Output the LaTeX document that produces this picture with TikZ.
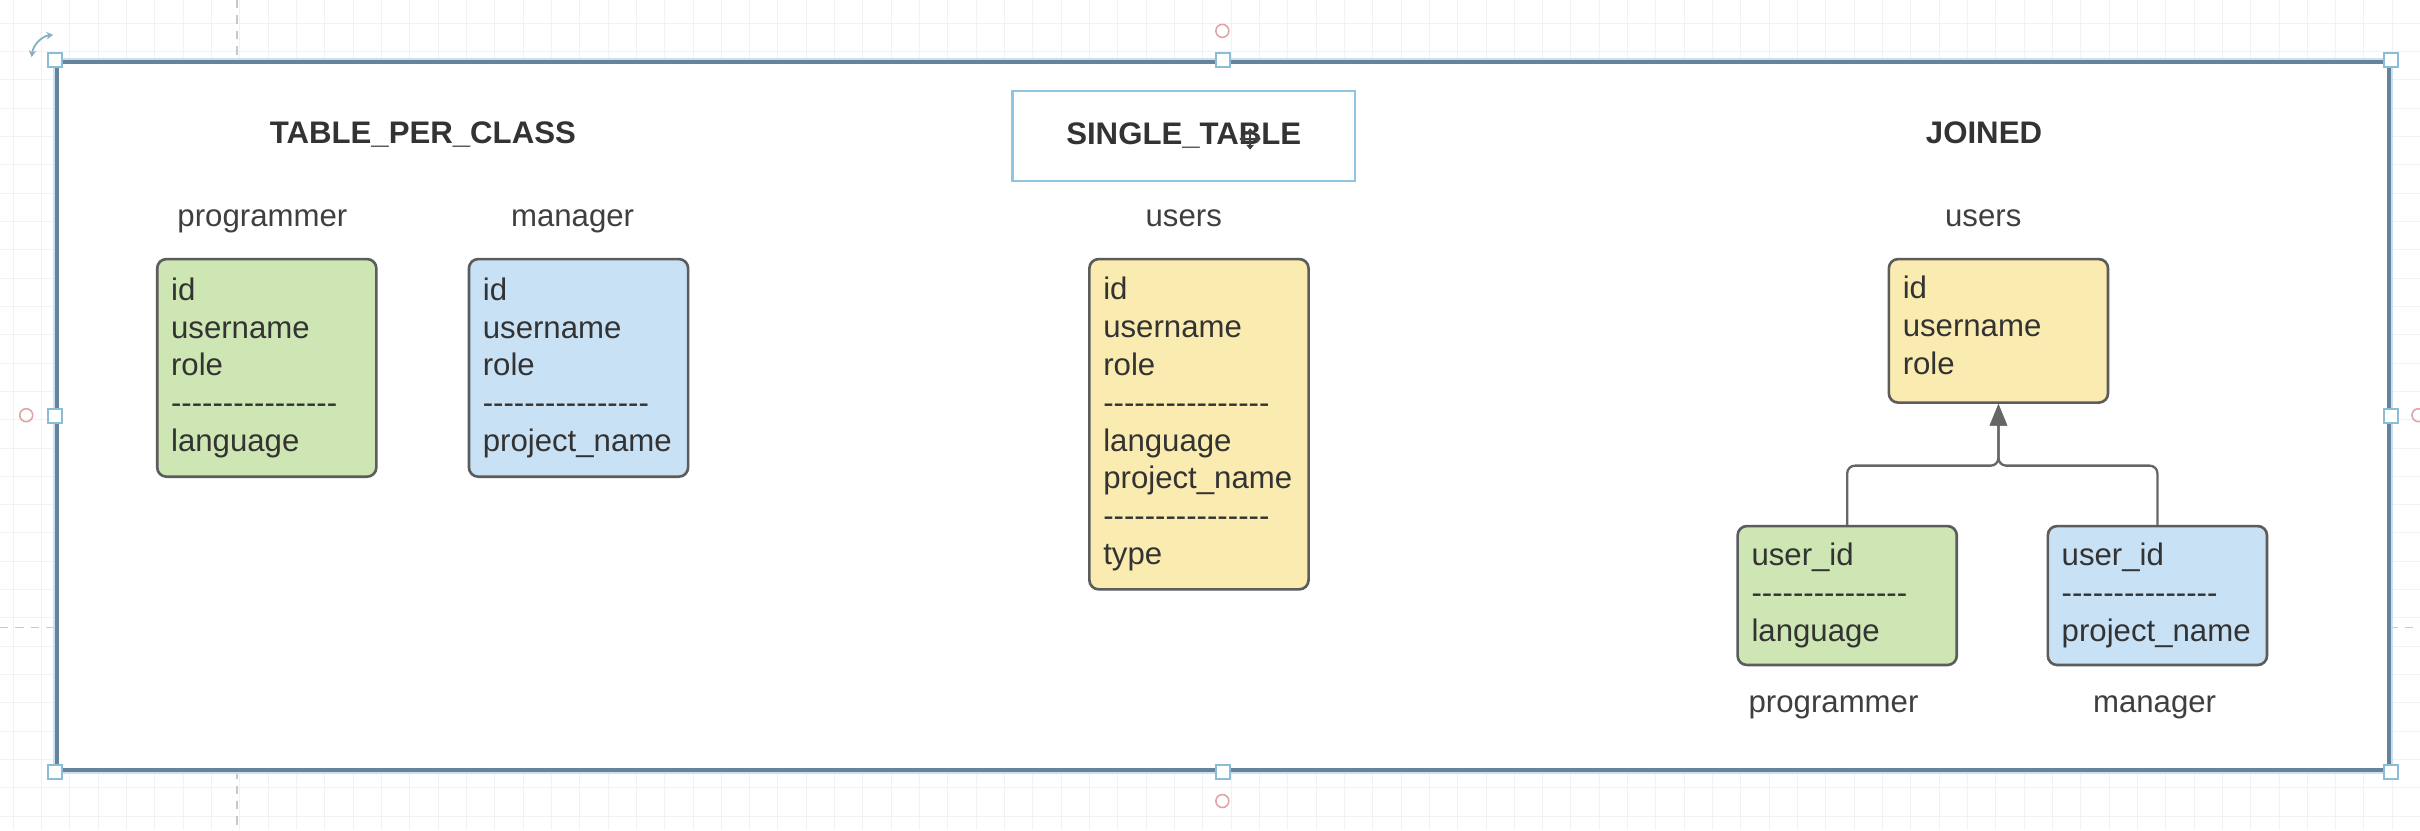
\documentclass[tikz,border=0pt]{standalone}
\usepackage{fontspec}
\setmainfont{Liberation Sans}[Ligatures=TeXOff]
\usetikzlibrary{arrows.meta,calc}
\definecolor{txt}{HTML}{333333}
\definecolor{lblc}{HTML}{3F3F3F}
\definecolor{boxline}{HTML}{5C5C5C}
\definecolor{grn}{HTML}{CDE6B3}
\definecolor{blu}{HTML}{C8E1F5}
\definecolor{ylw}{HTML}{FAEBB0}
\definecolor{framec}{HTML}{65849C}
\definecolor{halo}{HTML}{C9E2F2}
\definecolor{handlec}{HTML}{8BBCD8}
\definecolor{selc}{HTML}{90C4E2}
\definecolor{gridc}{HTML}{F0F2F5}
\definecolor{guidec}{HTML}{C5C9CD}
\definecolor{redc}{HTML}{E0A3A3}
\definecolor{connc}{HTML}{666666}
\hyphenpenalty=10000
\exhyphenpenalty=10000
\tikzset{
  basefont/.style={font=\fontsize{10.1}{12.25}\selectfont},
  tbl/.style={basefont, text=txt, draw=boxline, line width=0.85pt, rounded corners=3pt,
    anchor=north west, inner xsep=4.5pt, inner ysep=0pt, align=left, text width=62pt},
  lbl/.style={basefont, text=lblc, anchor=base, inner sep=0pt},
  ttl/.style={font=\fontsize{10.1}{12.25}\selectfont\bfseries, text=txt, anchor=base, inner sep=0pt},
  selbox/.style={font=\fontsize{10.1}{12.25}\selectfont\bfseries, text=txt, draw=selc,
    line width=0.7pt, minimum width=111pt, minimum height=29pt, inner sep=0pt},
  framebox/.style={draw=framec, line width=1.3pt, fill=white, minimum width=755.5pt,
    minimum height=229.5pt, inner sep=0pt},
  handle/.style={draw=handlec, fill=white, line width=0.6pt, minimum size=4.6pt, inner sep=0pt},
  redcirc/.style={circle, draw=redc, line width=0.5pt, minimum size=4.2pt, inner sep=0pt},
  gridl/.style={draw=gridc, line width=0.3pt},
  guide/.style={draw=guidec, line width=0.5pt, dash pattern=on 2.7pt off 2.3pt},
  conn/.style={draw=connc, line width=0.75pt, rounded corners=2.5pt,
    -{Triangle[length=7pt,width=5.5pt]}},
}
\begin{document}
\hyphenpenalty=10000
\exhyphenpenalty=10000
\begin{tikzpicture}[x=0.5pt,y=-0.5pt]
\fill[white] (0,0) rectangle (1568,538);
\useasboundingbox (0,0) rectangle (1568,538);
% background grid
\foreach \k in {0,...,85} \draw[gridl] ({8.6+18.35*\k},0) -- ({8.6+18.35*\k},538);
\foreach \k in {0,...,28} \draw[gridl] (0,{15+18.35*\k}) -- (1568,{15+18.35*\k});
% alignment guides
\draw[guide] (153.5,0) -- (153.5,40);
\draw[guide] (153.5,499) -- (153.5,538);
\draw[guide] (0,406.5) -- (37,406.5);
\draw[guide] (1548,406.5) -- (1568,406.5);
% frame
\node[draw=halo, line width=2.4pt, minimum width=755.5pt, minimum height=229.5pt, inner sep=0pt] (frmhalo) at (792.5,269.5) {};
\node[framebox] (frm) at (792.5,269.5) {};
\foreach \a/\n in {north west/h1, north/h2, north east/h3, west/h4, east/h5, south west/h6, south/h7, south east/h8}
  \node[handle] (\n) at (frm.\a) {};
\node[redcirc] (r1) at (792,20) {};
\node[redcirc] (r2) at (17,269) {};
\node[redcirc] (r3) at (792,519) {};
\node[redcirc] (r4) at (1567,269) {};
% rotate icon
\draw[draw=handlec!80!gray, line width=0.6pt, {Stealth[length=2.2pt,width=2.4pt]}-{Stealth[length=2.2pt,width=2.4pt]}]
  (20.5,37) .. controls (21.5,29) and (27,23.5) .. (34.5,22.5);
% titles
\node[ttl] (tpc) at (274,93.2) {TABLE\_PER\_CLASS};
\node[selbox] (st) at (767,88) {SINGLE\_TABLE};
\node[ttl] (jn) at (1285.5,93.2) {JOINED};
% move cursor
\draw[draw=black!75, line width=0.7pt, {Triangle[length=1.6pt,width=2.4pt]}-{Triangle[length=1.6pt,width=2.4pt]}] (803,90) -- (817,90);
\draw[draw=black!75, line width=0.7pt, {Triangle[length=1.6pt,width=2.4pt]}-{Triangle[length=1.6pt,width=2.4pt]}] (810,83) -- (810,97);
% labels
\node[lbl] (l1) at (170,146.5) {programmer};
\node[lbl] (l2) at (371,146.5) {manager};
\node[lbl] (l3) at (767,146.5) {users};
\node[lbl] (l4) at (1285,146.5) {users};
\node[lbl] (l5) at (1188,461.5) {programmer};
\node[lbl] (l6) at (1396,461.5) {manager};
% tables
\node[tbl, fill=grn, minimum height=70.5pt] (tp) at (101,167)
  {id\\username\\role\\----------------\\language};
\node[tbl, fill=blu, minimum height=70.5pt] (tm) at (303,167)
  {id\\username\\role\\----------------\\project\_name};
\node[tbl, fill=ylw, minimum height=107pt] (su) at (705,167)
  {id\\username\\role\\----------------\\language\\project\_name\\----------------\\type};
\node[tbl, fill=ylw, minimum height=46.5pt] (ju) at (1223,167)
  {id\\username\\role\rule[-3.5pt]{0pt}{1pt}};
\node[tbl, fill=grn, minimum height=45pt] (jp) at (1125,340)
  {user\_id\\---------------\\language};
\node[tbl, fill=blu, minimum height=45pt] (jm) at (1326,340)
  {user\_id\\---------------\\project\_name};
% inheritance connectors
\coordinate (jmid) at ($(ju.south)+(0,40)$);
\draw[conn] (jp.north) |- (jmid) -- (ju.south);
\draw[conn] (jm.north) |- (jmid) -- (ju.south);
\end{tikzpicture}
\end{document}
